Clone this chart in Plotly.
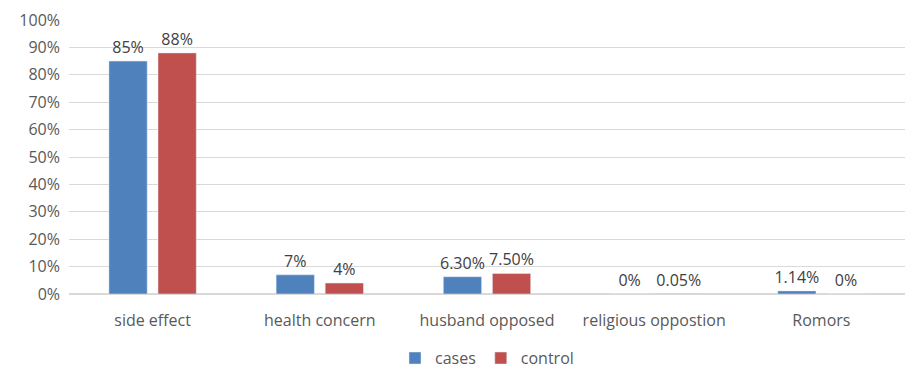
import plotly.graph_objects as go

categories = ["side effect", "health concern", "husband opposed", "religious oppostion", "Romors"]
cases = [85, 7, 6.30, 0, 1.14]
control = [88, 4, 7.50, 0.05, 0]
cases_labels = ["85%", "7%", "6.30%", "0%", "1.14%"]
control_labels = ["88%", "4%", "7.50%", "0.05%", "0%"]
y_ticks = list(range(0, 101, 10))
y_tick_labels = [f"{v}%" for v in y_ticks]

font_family = "Open Sans, sans-serif"

fig = go.Figure()
fig.add_trace(go.Bar(name="cases", x=categories, y=cases, text=cases_labels,
                     textposition="outside", marker_color="#4F81BD",
                     constraintext="none",
                     textfont=dict(size=16, color="#404040"), cliponaxis=False))
fig.add_trace(go.Bar(name="control", x=categories, y=control, text=control_labels,
                     textposition="outside", marker_color="#C0504D",
                     constraintext="none",
                     textfont=dict(size=16, color="#404040"), cliponaxis=False))

fig.update_layout(
    width=909, height=368,
    margin=dict(l=69, r=4, t=20, b=74, autoexpand=False),
    barmode="group", bargap=0.413, bargroupgap=0.22,
    plot_bgcolor="white", paper_bgcolor="white",
    font=dict(family=font_family, size=16, color="#595959"),
    legend=dict(orientation="h", x=0.5, xanchor="center", y=-0.234, yanchor="middle",
                font=dict(size=16, color="#595959"), itemwidth=30,
                traceorder="normal"),
)
fig.update_yaxes(range=[0, 100], tickvals=y_ticks, ticktext=y_tick_labels,
                 showgrid=True, gridcolor="#D9D9D9", gridwidth=1, automargin=False,
                 zeroline=True, zerolinecolor="#D9D9D9", ticks="",
                 ticklabelstandoff=8, tickfont=dict(size=16, color="#595959"))
fig.update_xaxes(showgrid=False, showline=True, linecolor="#D9D9D9", ticks="",
                 automargin=False,
                 ticklabelstandoff=12, tickfont=dict(size=16, color="#595959"))

fig.write_html("out.html")
